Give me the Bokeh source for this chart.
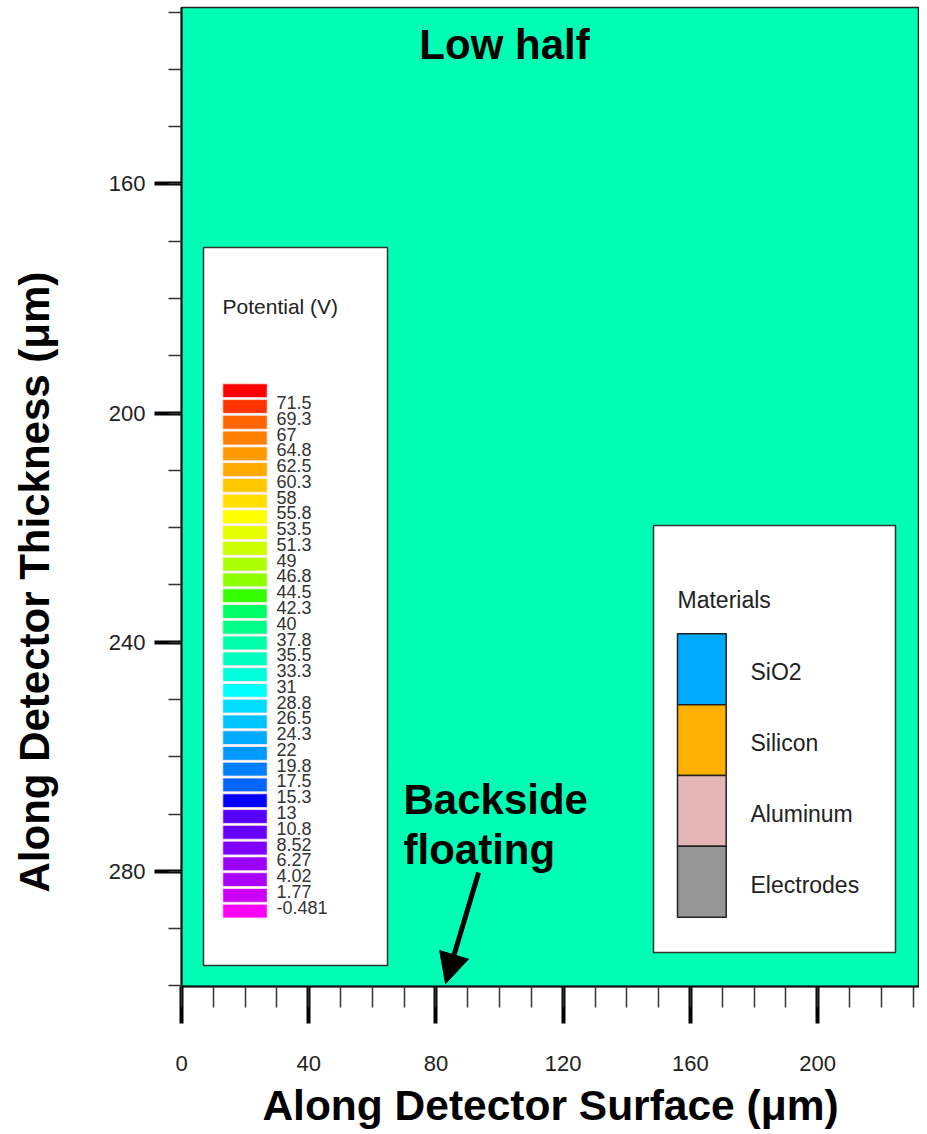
import math
from bokeh.plotting import figure
from bokeh.models import (Range1d, FixedTicker, Label, Arrow, NormalHead, ColumnDataSource,
                          Title, LinearAxis)
from bokeh.embed import file_html
from bokeh.resources import INLINE
from bokeh.core.properties import value

# ---------------- data ----------------
x_major_ticks = [0, 40, 80, 120, 160, 200]
x_minor_ticks = [0, 10, 20, 30, 40, 50, 60, 70, 80, 90, 100, 110, 120, 130, 140,
                 150, 160, 170, 180, 190, 200, 210, 220, 230]
y_major_ticks = [160, 200, 240, 280]
y_minor_ticks = [130, 140, 150, 160, 170, 180, 190, 200, 210, 220, 230, 240, 250,
                 260, 270, 280, 290, 300]
x_extent = [0, 232]
y_extent = [300.1, 129.2]   # thickness axis runs downward

potential_labels = ["71.5", "69.3", "67", "64.8", "62.5", "60.3", "58", "55.8", "53.5",
                    "51.3", "49", "46.8", "44.5", "42.3", "40", "37.8", "35.5", "33.3",
                    "31", "28.8", "26.5", "24.3", "22", "19.8", "17.5", "15.3", "13",
                    "10.8", "8.52", "6.27", "4.02", "1.77", "-0.481"]
potential_colors = ["#FF0000", "#FF3300", "#FF6600", "#FF8000", "#FF9900", "#FFAA00",
                    "#FFC800", "#FFE000", "#FFFF00", "#E6FF00", "#CCFF00", "#AAFF00",
                    "#8CFF00", "#33FF00", "#00FF66", "#00FF88", "#00FFAA", "#00FFC0",
                    "#00FFDD", "#00FFFF", "#00DDFF", "#00C4FF", "#00AAFF", "#0099FF",
                    "#0080FF", "#0066FF", "#0000FF", "#5500FF", "#6600FF", "#7F00FF",
                    "#9900FF", "#AA00FF", "#CC00FF", "#FF00FF"]
material_names = ["SiO2", "Silicon", "Aluminum", "Electrodes"]
material_colors = ["#00AAFF", "#FFB000", "#E4B6B6", "#969696"]
field_color = "#00FFB4"

title_text = "Low half"
x_title = "Along Detector Surface (\u03bcm)"
y_title = "Along Detector Thickness (\u03bcm)"
note_lines = ["Backside", "floating"]
arrow_tail = (93.4, 280.2)
arrow_tip = (83.0, 299.6)

# ---------------- layout helpers (page pixels -> data) ----------------
FRAME_W, FRAME_H = 738, 979
PAGE_LEFT, PAGE_TOP = 181, 7
sx = FRAME_W / (x_extent[1] - x_extent[0])
sy = FRAME_H / (y_extent[0] - y_extent[1])


def px2x(px):
    return x_extent[0] + (px - PAGE_LEFT) / sx


def px2y(py):
    return y_extent[1] + (py - PAGE_TOP) / sy


FONT = "Liberation Sans"

p = figure(frame_width=FRAME_W, frame_height=FRAME_H,
           x_range=Range1d(*x_extent), y_range=Range1d(*y_extent),
           output_backend="svg", toolbar_location=None,
           min_border_left=PAGE_LEFT, min_border_right=0, min_border_top=PAGE_TOP,
           min_border_bottom=0)
p.title.visible = False
p.background_fill_color = field_color
p.border_fill_color = "white"
p.outline_line_color = "#222222"
p.outline_line_width = 1.5
p.xgrid.visible = False
p.ygrid.visible = False

# axes
p.xaxis.ticker = FixedTicker(ticks=x_major_ticks, minor_ticks=x_minor_ticks)
p.yaxis.ticker = FixedTicker(ticks=y_major_ticks, minor_ticks=y_minor_ticks)
for ax in (p.xaxis, p.yaxis):
    ax.major_tick_in = 0
    ax.minor_tick_in = 0
    ax.major_tick_line_width = 4
    ax.major_tick_line_color = "black"
    ax.minor_tick_line_width = 1.5
    ax.minor_tick_line_color = "#333333"
    ax.axis_line_color = "#111111"
    ax.axis_line_width = 2
    ax.major_label_text_font = FONT
    ax.major_label_text_font_size = "22px"
    ax.major_label_text_color = "#222222"
p.xaxis.major_tick_out = 37
p.xaxis.minor_tick_out = 21
p.xaxis.major_label_standoff = 32
p.yaxis.major_tick_out = 27
p.yaxis.minor_tick_out = 13
p.yaxis.major_label_standoff = 9

p.xaxis.axis_label = x_title
p.xaxis.axis_label_text_font = FONT
p.xaxis.axis_label_text_font_size = "42.5px"
p.xaxis.axis_label_text_font_style = "bold"
p.xaxis.axis_label_text_color = "black"
p.xaxis.axis_label_standoff = 8

# invisible spacer so the y title sits far left, then the y title itself
spacer = LinearAxis(ticker=FixedTicker(ticks=[200], minor_ticks=[]),
                    major_tick_out=42, minor_tick_out=0,
                    major_tick_in=0, minor_tick_in=0,
                    major_tick_line_color="white", major_tick_line_width=1,
                    axis_line_color=None, major_label_overrides={200: ""},
                    major_label_standoff=0, major_label_text_font_size="1px")
p.add_layout(spacer, "left")
p.add_layout(Title(text=y_title, align="left", offset=94, vertical_align="middle",
                   text_font=FONT, text_font_size="42px", text_font_style="bold",
                   text_color="black"), "left")

# title inside plot
p.add_layout(Label(x=px2x(504), y=px2y(44), text=title_text, text_align="center",
                   text_baseline="alphabetic", text_font=FONT, text_font_size="42px",
                   text_font_style="bold", text_color="black"))

# note + arrow
for i, line in enumerate(note_lines):
    p.add_layout(Label(x=px2x(403), y=px2y(799 + 50 * i), text=line, text_align="left",
                       text_baseline="alphabetic", text_font=FONT, text_font_size="42px",
                       text_font_style="bold", text_color="black"))
p.add_layout(Arrow(end=NormalHead(size=30, fill_color="black", line_color="black"),
                   x_start=arrow_tail[0], y_start=arrow_tail[1],
                   x_end=arrow_tip[0], y_end=arrow_tip[1],
                   line_width=5, line_color="black"))

# ---------------- potential legend ----------------
p.quad(left=[px2x(203)], right=[px2x(387)], top=[px2y(247)], bottom=[px2y(965)],
       fill_color="white", line_color="#333333", line_width=1.5)
p.text(x=[px2x(222)], y=[px2y(306)], text=["Potential (V)"], text_font=value(FONT),
       text_font_size="21px", text_baseline="middle", text_align="left", text_color="#222222")

step = 15.77
sw_top = [px2y(383.3 + j * step) for j in range(len(potential_colors))]
sw_bot = [px2y(383.3 + j * step + 13.8) for j in range(len(potential_colors))]
p.quad(left=px2x(222.3), right=px2x(266.7), top=sw_top, bottom=sw_bot,
       fill_color=potential_colors, line_color="#FFE8E8", line_width=0.8)
lab_src = ColumnDataSource(dict(
    x=[px2x(276)] * len(potential_labels),
    y=[px2y(402 + k * step) for k in range(len(potential_labels))],
    text=potential_labels))
p.text(x="x", y="y", text="text", source=lab_src, text_font=value(FONT),
       text_font_size="18px", text_baseline="middle", text_align="left",
       text_color="#333333")

# ---------------- materials legend ----------------
p.quad(left=[px2x(653)], right=[px2x(895)], top=[px2y(525)], bottom=[px2y(952)],
       fill_color="white", line_color="#333333", line_width=1.5)
p.text(x=[px2x(677)], y=[px2y(599)], text=["Materials"], text_font=value(FONT),
       text_font_size="23px", text_baseline="middle", text_align="left", text_color="#222222")
mh = 70.85
m_top = [px2y(633.3 + i * mh) for i in range(len(material_names))]
m_bot = [px2y(633.3 + (i + 1) * mh) for i in range(len(material_names))]
p.quad(left=px2x(677), right=px2x(725.7), top=m_top, bottom=m_bot,
       fill_color=material_colors, line_color="#222222", line_width=1.5)
m_src = ColumnDataSource(dict(
    x=[px2x(750)] * len(material_names),
    y=[px2y(633.3 + (i + 0.5) * mh + 3) for i in range(len(material_names))],
    text=material_names))
p.text(x="x", y="y", text="text", source=m_src, text_font=value(FONT),
       text_font_size="23px", text_baseline="middle", text_align="left",
       text_color="#222222")

open("out.html", "w").write(file_html(p, INLINE))
